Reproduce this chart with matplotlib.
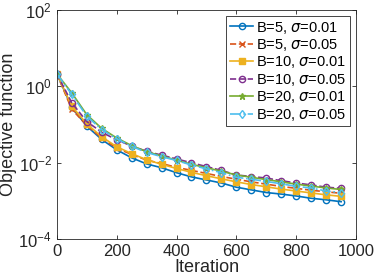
import numpy as np
import matplotlib
matplotlib.use("Agg")
import matplotlib.pyplot as plt

plt.rcParams['font.family'] = ['Liberation Sans', 'DejaVu Sans']
plt.rcParams['mathtext.fontset'] = 'dejavusans'

# iterations and log10 of objective values
iterations = np.arange(0, 1000, 50)
log_b5_s001 = [0.33, -0.55, -1.04, -1.39, -1.66, -1.87, -2.03, -2.13, -2.26, -2.37,
               -2.45, -2.53, -2.64, -2.71, -2.78, -2.82, -2.87, -2.93, -2.97, -3.02]
log_b5_s005 = [0.33, -0.60, -1.02, -1.35, -1.62, -1.78, -1.93, -2.02, -2.12, -2.20,
               -2.28, -2.36, -2.43, -2.50, -2.56, -2.62, -2.67, -2.72, -2.76, -2.80]
log_b10_s001 = [0.33, -0.52, -0.98, -1.32, -1.58, -1.76, -1.92, -2.04, -2.15, -2.25,
                -2.34, -2.42, -2.50, -2.57, -2.63, -2.69, -2.74, -2.79, -2.84, -2.88]
log_b10_s005 = [0.33, -0.43, -0.92, -1.20, -1.40, -1.56, -1.70, -1.80, -1.90, -2.00,
                -2.10, -2.20, -2.32, -2.36, -2.40, -2.47, -2.53, -2.58, -2.64, -2.67]
log_b20_s001 = [0.33, -0.17, -0.74, -1.10, -1.35, -1.55, -1.71, -1.82, -1.93, -2.04,
                -2.13, -2.22, -2.32, -2.38, -2.44, -2.50, -2.56, -2.61, -2.66, -2.70]
log_b20_s005 = [0.33, -0.21, -0.78, -1.13, -1.37, -1.57, -1.73, -1.84, -1.94, -2.06,
                -2.16, -2.26, -2.38, -2.43, -2.49, -2.55, -2.62, -2.66, -2.74, -2.78]

labels = ['B=5, $\\sigma$=0.01', 'B=5, $\\sigma$=0.05',
          'B=10, $\\sigma$=0.01', 'B=10, $\\sigma$=0.05',
          'B=20, $\\sigma$=0.01', 'B=20, $\\sigma$=0.05']
series = [log_b5_s001, log_b5_s005, log_b10_s001, log_b10_s005, log_b20_s001, log_b20_s005]
colors = ['#0072BD', '#D95319', '#EDB120', '#7E2F8E', '#77AC30', '#4DBEEE']
markers = ['o', 'x', 's', 'o', '*', 'd']
styles = ['-', '--', '-', '--', '-', '-.']
fills = ['none', 'none', 'full', 'none', 'full', 'none']

fig = plt.figure(figsize=(3.74, 2.8), dpi=100)
ax = fig.add_axes([0.152, 0.146, 0.8, 0.818])

for lab, vals, c, m, ls, fs in zip(labels, series, colors, markers, styles, fills):
    y = 10.0 ** np.array(vals)
    if fs == 'none':
        ax.plot(iterations, y, ls, color=c, marker=m, markersize=4.5, lw=1.2,
                mfc='none', mec=c, mew=1.0, label=lab)
    else:
        ax.plot(iterations, y, ls, color=c, marker=m, markersize=4.5, lw=1.2,
                mec=c, mew=1.0, label=lab)

ax.set_yscale('log')
ax.set_xlim(0, 1000)
ax.set_ylim(1e-4, 1e2)
ax.set_xticks([0, 200, 400, 600, 800, 1000])
ax.set_yticks([1e-4, 1e-2, 1e0, 1e2])
ax.minorticks_off()
ax.tick_params(direction='in', top=True, right=True, labelsize=12,
               length=3, width=0.6, color='#262626', labelcolor='#262626')
for s in ax.spines.values():
    s.set_color('#262626')
    s.set_linewidth(0.6)

ax.set_xlabel('Iteration', fontsize=13, color='#262626', labelpad=0)
ax.set_ylabel('Objective function', fontsize=13, color='#262626', labelpad=1)

leg = ax.legend(loc='upper right', fontsize=10.5, handlelength=1.6,
                handletextpad=0.2, borderpad=0.25, labelspacing=0.1,
                borderaxespad=0.4, fancybox=False, framealpha=1, edgecolor='#262626')
leg.get_frame().set_linewidth(0.6)

fig.savefig('out.png', dpi=100)
